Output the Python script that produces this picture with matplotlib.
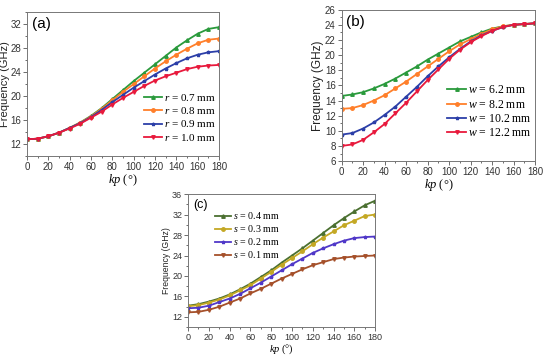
import numpy as np
import matplotlib.pyplot as plt

plt.rcParams['font.family'] = ['Liberation Sans', 'DejaVu Sans']
plt.rcParams['mathtext.fontset'] = 'custom'
plt.rcParams['mathtext.it'] = 'Liberation Serif:italic'
plt.rcParams['mathtext.rm'] = 'Liberation Serif'

kp = list(range(0, 181, 10))

# (a) varying r
r_labels = ["0.7", "0.8", "0.9", "1.0"]
r_07 = [12.8, 12.9, 13.3, 13.9, 14.7, 15.6, 16.7, 18.0, 19.5, 21.0, 22.5, 23.9, 25.3, 26.7, 28.1, 29.3, 30.4, 31.2, 31.5]
r_08 = [12.8, 12.9, 13.3, 13.9, 14.7, 15.6, 16.6, 17.9, 19.3, 20.7, 22.0, 23.3, 24.6, 25.8, 26.9, 27.9, 28.8, 29.4, 29.6]
r_09 = [12.8, 12.9, 13.3, 13.9, 14.7, 15.5, 16.5, 17.7, 19.0, 20.2, 21.4, 22.5, 23.6, 24.6, 25.5, 26.3, 26.9, 27.3, 27.5]
r_10 = [12.8, 12.9, 13.3, 13.9, 14.6, 15.4, 16.4, 17.4, 18.6, 19.7, 20.7, 21.7, 22.6, 23.3, 23.9, 24.5, 24.9, 25.1, 25.2]

# (b) varying w
w_labels = ["6.2", "8.2", "10.2", "12.2"]
w_62 = [14.6, 14.8, 15.1, 15.6, 16.2, 16.9, 17.7, 18.5, 19.4, 20.2, 21.0, 21.8, 22.4, 23.0, 23.5, 23.8, 24.0, 24.1, 24.2]
w_82 = [12.9, 13.0, 13.4, 14.0, 14.7, 15.6, 16.5, 17.5, 18.5, 19.5, 20.5, 21.4, 22.1, 22.8, 23.4, 23.8, 24.0, 24.1, 24.2]
w_102 = [9.5, 9.7, 10.3, 11.1, 12.1, 13.2, 14.5, 15.8, 17.2, 18.5, 19.7, 20.8, 21.8, 22.6, 23.2, 23.7, 24.0, 24.1, 24.2]
w_122 = [8.0, 8.2, 8.8, 9.8, 10.9, 12.3, 13.7, 15.2, 16.7, 18.1, 19.5, 20.7, 21.7, 22.5, 23.2, 23.7, 24.0, 24.1, 24.2]

# (c) varying s
s_labels = ["0.4", "0.3", "0.2", "0.1"]
s_04 = [14.2, 14.5, 15.0, 15.6, 16.4, 17.4, 18.5, 19.8, 21.1, 22.6, 24.0, 25.4, 26.9, 28.4, 29.9, 31.3, 32.6, 33.8, 34.7]
s_03 = [14.1, 14.3, 14.8, 15.4, 16.2, 17.2, 18.2, 19.5, 20.8, 22.2, 23.5, 24.8, 26.2, 27.5, 28.7, 29.9, 30.8, 31.7, 32.0]
s_02 = [13.7, 13.8, 14.2, 14.9, 15.6, 16.5, 17.6, 18.7, 19.9, 21.1, 22.3, 23.4, 24.5, 25.4, 26.2, 26.9, 27.4, 27.6, 27.7]
s_01 = [12.9, 13.0, 13.4, 14.0, 14.8, 15.6, 16.6, 17.5, 18.5, 19.5, 20.4, 21.3, 22.1, 22.7, 23.3, 23.6, 23.8, 23.9, 24.0]

colors_ab = ['#2a9a3c', '#ff7f2a', '#2c3fa8', '#e8193c']
colors_c = ['#4b7030', '#c4a824', '#5038c8', '#a5502a']
markers = ['^', 'o', '*', 'v']


def panel(ax, series, labels, var, colors, ylim, yticks, tag, loc, anchor, fs):
    for ys, lab, c, m in zip(series, labels, colors, markers):
        ax.plot(kp, ys, color=c, marker=m, markersize=2.5, linewidth=1.3,
                label=f"${var}$ = {lab} mm")
    ax.set_xlim(0, 180)
    ax.set_ylim(*ylim)
    ax.set_xticks(range(0, 181, 20))
    ax.set_xticks(range(0, 181, 10), minor=True)
    ax.set_yticks(yticks)
    ax.set_yticks(np.arange(ylim[0], ylim[1] + 0.1, (yticks[1] - yticks[0]) / 2), minor=True)
    ax.tick_params(which='both', direction='out', labelsize=fs['tick'], width=0.6,
                   color='#555555', pad=1.2, labelcolor='#333333')
    ax.tick_params(which='major', length=3)
    ax.tick_params(which='minor', length=1.6)
    for sp in ax.spines.values():
        sp.set_color('#777777')
        sp.set_linewidth(0.7)
    ax.set_ylabel("Frequency (GHz)", fontsize=fs['ylab'], labelpad=0.5, color='#222222')
    ax.set_xlabel(r"$kp$ (°)", fontsize=fs['xlab'], family=['Liberation Serif', 'DejaVu Serif'],
                  labelpad=0)
    ax.text(0.025, 0.965, tag, transform=ax.transAxes, fontsize=fs['tag'], va='top', ha='left')
    ax.legend(loc=loc, bbox_to_anchor=anchor, frameon=False, handlelength=1.6,
              handletextpad=0.15, labelspacing=0.2, borderpad=0.2, borderaxespad=0.1,
              prop={'family': ['Liberation Serif', 'DejaVu Serif'], 'size': fs['leg']})


fs_a = {'tick': 7, 'ylab': 8, 'xlab': 9, 'tag': 11, 'leg': 8}
fs_b = {'tick': 7, 'ylab': 8.5, 'xlab': 9, 'tag': 11, 'leg': 8.5}
fs_c = {'tick': 6.5, 'ylab': 6.2, 'xlab': 7.5, 'tag': 9, 'leg': 7.2}

fig = plt.figure(figsize=(5.5, 3.58), dpi=100)

ax_a = fig.add_axes([0.049, 0.564, 0.349, 0.402])
panel(ax_a, [r_07, r_08, r_09, r_10], r_labels, 'r', colors_ab, (10, 34), range(12, 33, 4),
      '(a)', 'lower right', (1.0, 0.07), fs_a)

ax_b = fig.add_axes([0.621, 0.550, 0.352, 0.423])
panel(ax_b, [w_62, w_82, w_102, w_122], w_labels, 'w', colors_ab, (6, 26), range(6, 27, 2),
      '(b)', 'lower right', (1.0, 0.12), fs_b)

ax_c = fig.add_axes([0.342, 0.086, 0.340, 0.372])
panel(ax_c, [s_04, s_03, s_02, s_01], s_labels, 's', colors_c, (10, 36), range(12, 37, 4),
      '(c)', 'upper left', (0.13, 0.9), fs_c)

fig.savefig('out.png', dpi=100)
